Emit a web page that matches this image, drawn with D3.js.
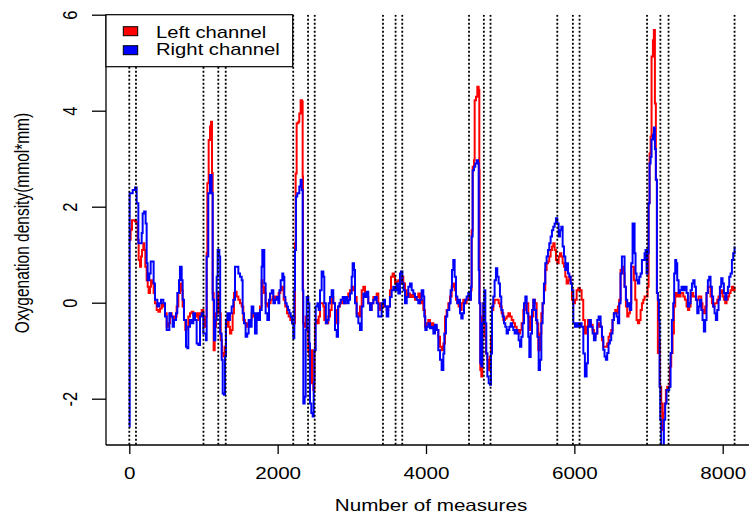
<!DOCTYPE html>
<html><head><meta charset="utf-8">
<script src="https://cdn.jsdelivr.net/npm/d3@7"></script>
<style>
html,body{margin:0;padding:0;background:#fff;}
svg{display:block;font-family:"Liberation Sans",Arial,sans-serif;}
</style></head>
<body>
<svg id="chart" width="749" height="517"></svg>
<script>
const xTicks = [0, 2000, 4000, 6000, 8000];
const yTicks = [-2, 0, 2, 4, 6];
const seriesNames = ["Left channel", "Right channel"];
const seriesColors = ["#ff0000", "#0000ff"];
const xTitle = "Number of measures";
const yTitle = "Oxygenation density(mmol*mm)";
const markers = [0, 90, 1000, 1200, 1300, 2210, 2410, 2500, 3420, 3590, 3680, 4580, 4780, 4870, 5770, 5980, 6070, 6980, 7160, 7270, 8160];

const leftChannel = [[0,1.31],[18,1.52],[36,1.72],[77,1.69],[99,1.65],[113,1.31],[126,0.89],[144,0.75],[158,0.96],[171,1.10],[189,1.24],[203,1.10],[216,0.75],[234,0.47],[248,0.33],[261,0.20],[279,0.33],[292,0.47],[310,0.40],[328,0.20],[346,-0.01],[369,-0.15],[391,-0.19],[414,-0.12],[436,-0.01],[459,-0.08],[481,-0.22],[504,-0.50],[526,-0.43],[549,-0.22],[571,-0.29],[593,-0.36],[616,-0.29],[638,-0.08],[661,0.20],[683,0.40],[706,0.26],[719,-0.08],[737,-0.36],[755,-0.57],[773,-0.50],[796,-0.29],[818,-0.22],[841,-0.19],[863,-0.26],[886,-0.29],[908,-0.22],[931,-0.36],[953,-0.22],[976,-0.15],[998,-0.29],[1016,-0.50],[1034,-0.29],[1043,1.03],[1052,2.49],[1070,3.39],[1088,3.67],[1101,3.77],[1115,2.70],[1124,0.20],[1137,-0.99],[1151,-0.50],[1169,-0.22],[1187,0.13],[1200,0.20],[1214,-0.22],[1232,-0.78],[1249,-1.05],[1267,-1.12],[1285,-0.92],[1303,-0.50],[1321,-0.36],[1339,-0.50],[1357,-0.64],[1375,-0.57],[1393,-0.22],[1411,0.20],[1429,0.23],[1447,0.13],[1470,0.06],[1492,-0.01],[1515,-0.08],[1537,-0.36],[1559,-0.43],[1582,-0.50],[1604,-0.43],[1627,-0.36],[1649,-0.22],[1672,-0.29],[1694,-0.36],[1717,-0.29],[1739,-0.22],[1762,-0.08],[1784,0.47],[1798,0.33],[1816,0.20],[1838,-0.01],[1861,-0.08],[1883,-0.01],[1905,0.06],[1932,0.13],[1959,0.06],[1986,0.13],[2013,0.20],[2036,0.26],[2058,0.33],[2081,0.06],[2103,-0.08],[2126,-0.22],[2148,-0.29],[2171,-0.36],[2193,-0.43],[2211,-0.43],[2234,1.24],[2243,2.69],[2256,3.74],[2279,3.77],[2292,3.94],[2310,4.22],[2328,4.19],[2337,2.63],[2342,-0.43],[2360,-0.50],[2378,-0.29],[2391,-0.57],[2414,-0.99],[2427,-1.13],[2445,-0.99],[2463,-1.68],[2481,-1.82],[2495,-0.99],[2504,-0.43],[2522,-0.36],[2535,-0.43],[2553,-0.29],[2571,-0.01],[2593,-0.01],[2616,-0.08],[2629,-0.36],[2650,-0.43],[2683,-0.29],[2706,-0.15],[2728,0.12],[2750,-0.01],[2773,-0.15],[2796,-0.43],[2818,-0.08],[2840,-0.01],[2863,0.06],[2890,-0.01],[2912,0.06],[2930,0.12],[2952,0.19],[2975,0.26],[2998,0.33],[3020,0.26],[3043,0.12],[3065,-0.22],[3088,-0.29],[3110,-0.08],[3133,0.26],[3155,0.33],[3178,0.19],[3200,0.12],[3222,-0.01],[3245,-0.15],[3267,-0.01],[3290,0.12],[3312,0.12],[3335,0.19],[3357,-0.01],[3380,-0.15],[3402,-0.08],[3425,-0.01],[3447,-0.08],[3470,-0.15],[3492,-0.08],[3514,0.26],[3528,0.54],[3550,0.61],[3568,0.54],[3582,0.40],[3604,0.44],[3627,0.47],[3649,0.40],[3672,0.54],[3694,0.40],[3717,0.26],[3740,0.12],[3762,0.19],[3784,0.12],[3807,0.16],[3829,0.12],[3851,0.06],[3874,0.12],[3896,0.19],[3919,-0.01],[3941,0.06],[3964,-0.15],[3986,-0.50],[4009,-0.43],[4031,-0.36],[4054,-0.50],[4076,-0.43],[4099,-0.53],[4121,-0.50],[4144,-0.57],[4166,-0.71],[4189,-0.92],[4211,-0.99],[4234,-0.85],[4256,-0.29],[4278,-0.15],[4301,-0.01],[4323,0.13],[4346,0.33],[4368,0.40],[4386,0.26],[4404,0.06],[4422,-0.01],[4440,-0.08],[4458,-0.15],[4481,-0.01],[4503,0.06],[4526,-0.01],[4548,0.06],[4570,0.13],[4593,0.06],[4606,0.26],[4615,1.51],[4629,2.83],[4647,2.97],[4656,4.22],[4674,4.29],[4692,4.50],[4710,4.43],[4719,2.76],[4723,-0.01],[4732,-1.40],[4746,-1.54],[4759,-0.29],[4773,-0.01],[4791,-0.71],[4809,-1.06],[4827,-1.19],[4845,-1.40],[4863,-1.13],[4876,-0.71],[4890,-0.15],[4907,-0.01],[4925,0.06],[4961,0.06],[4979,-0.01],[4997,-0.08],[5020,-0.22],[5042,-0.36],[5065,-0.33],[5087,-0.29],[5110,-0.22],[5132,-0.29],[5155,-0.36],[5177,-0.43],[5200,-0.50],[5222,-0.57],[5244,-0.64],[5267,-0.57],[5289,-0.43],[5312,-0.15],[5334,-0.01],[5357,-0.01],[5379,-0.29],[5402,-0.57],[5424,-0.29],[5447,0.06],[5469,-0.01],[5492,-0.43],[5514,-0.99],[5537,-0.64],[5555,-0.22],[5572,-0.01],[5590,0.26],[5608,0.68],[5626,0.82],[5644,0.86],[5662,0.96],[5680,1.10],[5698,1.17],[5716,1.24],[5734,1.10],[5752,0.89],[5770,0.82],[5788,0.96],[5806,1.03],[5824,0.96],[5842,0.82],[5860,0.75],[5878,0.54],[5896,0.40],[5914,0.47],[5932,0.54],[5950,0.40],[5968,0.06],[5986,-0.01],[6008,0.06],[6031,0.26],[6053,0.30],[6076,0.26],[6098,0.06],[6120,-0.36],[6142,-0.64],[6165,-0.50],[6183,-0.36],[6201,-0.43],[6223,-0.46],[6246,-0.57],[6264,-0.71],[6286,-0.64],[6309,-0.50],[6327,-0.43],[6354,-0.50],[6372,-0.78],[6390,-0.92],[6425,-0.92],[6443,-0.85],[6461,-0.71],[6479,-0.64],[6497,-0.57],[6515,-0.36],[6533,-0.22],[6551,-0.15],[6569,-0.22],[6587,-0.08],[6605,0.06],[6623,0.68],[6641,0.75],[6659,0.61],[6677,0.33],[6695,-0.08],[6713,-0.29],[6731,-0.22],[6749,-0.01],[6767,0.75],[6785,0.75],[6803,0.47],[6821,0.06],[6839,-0.36],[6857,-0.43],[6875,-0.36],[6893,-0.15],[6911,-0.01],[6929,0.06],[6947,0.13],[6974,0.13],[6987,0.33],[7001,2.07],[7014,3.11],[7028,3.46],[7041,5.13],[7059,5.47],[7072,5.68],[7086,4.15],[7099,2.56],[7113,0.20],[7126,-1.05],[7140,-0.78],[7153,-1.75],[7171,-2.10],[7185,-2.65],[7198,-2.30],[7216,-2.10],[7234,-1.82],[7252,-1.75],[7270,-1.75],[7288,-1.33],[7306,-1.05],[7324,-0.64],[7342,-0.08],[7360,0.20],[7378,0.13],[7396,0.20],[7414,0.13],[7432,0.20],[7450,0.20],[7468,0.13],[7490,0.06],[7513,-0.08],[7531,-0.15],[7549,-0.08],[7567,0.13],[7585,0.20],[7603,0.13],[7621,0.13],[7639,0.06],[7657,0.06],[7675,0.13],[7693,0.13],[7711,-0.01],[7728,-0.15],[7746,-0.22],[7764,-0.08],[7782,0.20],[7800,0.33],[7818,0.33],[7836,0.13],[7854,-0.01],[7872,-0.08],[7890,-0.01],[7908,-0.01],[7926,0.06],[7944,0.13],[7962,0.20],[7980,0.26],[7998,0.13],[8016,0.06],[8034,-0.01],[8052,0.06],[8070,0.13],[8088,0.20],[8106,0.26],[8124,0.33],[8142,0.26],[8160,0.33]];

const rightChannel = [[0,-2.58],[5,2.28],[46,2.35],[77,2.40],[99,2.07],[122,1.24],[167,1.45],[180,1.86],[200,1.90],[220,1.65],[234,0.82],[247,0.47],[270,0.61],[288,0.86],[315,0.86],[328,0.40],[346,0.06],[378,-0.08],[405,-0.01],[427,0.06],[459,-0.01],[481,-0.29],[504,-0.57],[526,-0.57],[540,-0.22],[562,-0.29],[584,-0.50],[602,-0.36],[630,-0.22],[647,0.20],[670,0.47],[683,0.75],[706,0.47],[719,0.06],[737,-0.36],[764,-0.92],[782,-0.95],[796,-0.50],[818,-0.36],[841,-0.43],[863,-0.22],[886,-0.36],[908,-0.85],[931,-0.88],[953,-0.29],[976,-0.22],[998,-0.64],[1034,-0.78],[1043,0.96],[1065,2.28],[1088,2.66],[1110,2.28],[1124,0.06],[1142,-0.78],[1160,-0.36],[1178,0.54],[1191,1.10],[1214,0.96],[1225,-0.64],[1245,-1.19],[1259,-1.89],[1276,-1.92],[1290,-1.12],[1303,-0.36],[1321,-0.22],[1339,-0.36],[1357,-0.22],[1380,-0.08],[1402,0.06],[1425,0.75],[1447,0.75],[1470,0.61],[1492,0.54],[1515,0.47],[1528,-0.22],[1546,-0.43],[1568,-0.71],[1590,-0.64],[1609,-0.36],[1627,-0.50],[1649,-0.08],[1672,-0.22],[1694,-0.64],[1717,-0.22],[1739,-0.36],[1762,-0.15],[1784,0.75],[1793,1.10],[1816,1.10],[1820,0.40],[1838,-0.22],[1861,-0.36],[1883,0.06],[1897,0.19],[1920,0.26],[1942,-0.01],[1964,0.06],[1987,0.12],[2009,-0.01],[2023,0.26],[2041,0.47],[2063,0.61],[2076,0.54],[2090,0.12],[2104,-0.01],[2122,-0.08],[2140,-0.15],[2158,-0.22],[2176,-0.29],[2194,-0.43],[2212,-0.74],[2225,0.26],[2234,1.10],[2247,2.21],[2265,2.28],[2292,2.42],[2310,2.56],[2324,2.35],[2337,0.26],[2346,-2.10],[2364,-1.96],[2378,-0.57],[2391,0.12],[2414,-0.01],[2427,-0.85],[2436,-2.10],[2454,-2.30],[2472,-2.37],[2486,-1.68],[2495,-0.99],[2513,-0.08],[2535,-0.01],[2553,-0.15],[2571,0.26],[2593,0.65],[2616,0.54],[2629,-0.01],[2650,-0.43],[2670,-0.36],[2688,-0.01],[2706,0.12],[2728,0.26],[2750,-0.01],[2773,-0.57],[2796,-0.71],[2814,-0.08],[2832,-0.01],[2850,0.06],[2877,0.12],[2895,-0.01],[2912,0.12],[2940,-0.01],[2957,0.06],[2975,0.19],[2998,0.54],[3011,0.82],[3029,0.68],[3043,-0.01],[3065,-0.29],[3088,-0.43],[3110,-0.57],[3133,-0.08],[3155,0.19],[3178,0.12],[3200,0.23],[3222,-0.01],[3245,-0.15],[3267,-0.01],[3290,0.06],[3312,0.12],[3335,-0.01],[3357,-0.29],[3380,-0.29],[3402,-0.01],[3425,0.06],[3447,-0.08],[3470,-0.29],[3492,-0.08],[3514,0.12],[3537,0.26],[3559,0.33],[3582,0.26],[3604,0.40],[3627,0.19],[3649,0.61],[3663,0.65],[3681,0.40],[3699,0.26],[3717,-0.01],[3740,0.12],[3762,0.33],[3784,0.40],[3807,0.26],[3829,0.19],[3851,0.12],[3874,0.06],[3896,-0.01],[3919,0.06],[3941,0.26],[3964,0.13],[3977,-0.29],[3991,-0.57],[4009,-0.50],[4031,-0.43],[4054,-0.53],[4076,-0.50],[4099,-0.64],[4121,-0.46],[4144,-0.57],[4166,-0.99],[4189,-1.19],[4211,-1.40],[4234,-1.06],[4247,-0.64],[4269,-0.29],[4287,-0.15],[4314,-0.01],[4332,0.26],[4350,0.68],[4368,0.89],[4386,0.54],[4404,0.13],[4422,-0.01],[4440,0.06],[4458,-0.22],[4476,-0.33],[4494,-0.22],[4512,-0.01],[4530,0.06],[4548,0.13],[4570,0.20],[4593,0.06],[4606,0.33],[4615,1.38],[4629,2.76],[4647,2.83],[4665,2.90],[4683,2.97],[4701,2.90],[4710,0.68],[4719,-0.01],[4732,-1.26],[4746,-1.33],[4759,-0.43],[4773,-0.01],[4786,0.26],[4800,-0.43],[4813,-1.06],[4827,-1.54],[4845,-1.68],[4863,-1.71],[4876,-1.06],[4890,-0.08],[4907,0.13],[4925,0.47],[4943,0.72],[4961,0.54],[4979,0.40],[4997,0.13],[5015,-0.15],[5033,-0.29],[5051,-0.43],[5069,-0.50],[5087,-0.64],[5105,-0.57],[5123,-0.50],[5141,-0.43],[5159,-0.50],[5177,-0.57],[5195,-0.64],[5213,-0.57],[5231,-0.64],[5249,-0.78],[5267,-0.92],[5285,-0.71],[5303,-0.43],[5321,-0.01],[5339,0.13],[5357,-0.22],[5379,-0.71],[5393,-1.13],[5411,-0.64],[5429,-0.15],[5447,0.06],[5465,-0.15],[5483,-0.36],[5501,-0.71],[5519,-1.40],[5537,-1.19],[5555,-0.43],[5572,-0.01],[5590,0.40],[5608,0.82],[5626,0.96],[5644,1.10],[5662,1.24],[5680,1.38],[5698,1.51],[5716,1.58],[5734,1.65],[5752,1.76],[5770,1.65],[5788,1.38],[5806,1.51],[5824,1.58],[5842,1.17],[5860,0.96],[5878,0.68],[5896,0.82],[5914,0.61],[5932,0.54],[5950,0.40],[5968,0.26],[5986,-0.43],[6008,-0.50],[6031,-0.43],[6053,-0.50],[6076,-0.43],[6098,-0.50],[6121,-1.06],[6142,-1.54],[6165,-1.26],[6183,-0.50],[6201,-0.36],[6223,-0.50],[6246,-0.64],[6264,-0.78],[6286,-0.64],[6309,-0.36],[6327,-0.29],[6354,-0.50],[6372,-0.71],[6390,-0.98],[6407,-1.12],[6425,-1.19],[6443,-1.05],[6461,-0.85],[6479,-0.78],[6497,-0.64],[6515,-0.36],[6533,-0.22],[6551,-0.22],[6569,-0.29],[6587,-0.43],[6605,-0.01],[6623,0.61],[6641,0.96],[6659,0.96],[6677,0.33],[6695,0.06],[6713,-0.08],[6731,-0.01],[6749,-0.15],[6767,0.82],[6785,1.65],[6803,1.65],[6812,1.03],[6825,0.61],[6839,0.47],[6857,0.40],[6875,0.54],[6893,0.61],[6911,0.89],[6929,0.89],[6947,1.03],[6960,1.10],[6974,0.61],[6987,1.03],[7001,2.07],[7014,2.90],[7028,3.04],[7041,3.40],[7059,3.50],[7072,3.65],[7086,3.20],[7099,2.56],[7113,0.20],[7126,0.06],[7140,-0.36],[7149,-1.75],[7158,-2.44],[7171,-3.20],[7189,-3.20],[7207,-2.44],[7225,-2.10],[7243,-1.82],[7261,-1.82],[7279,-1.75],[7297,-1.05],[7315,-0.36],[7333,-0.01],[7346,0.61],[7360,0.89],[7373,0.82],[7387,0.47],[7405,0.20],[7423,0.26],[7445,0.33],[7468,0.26],[7490,0.33],[7513,0.20],[7531,-0.08],[7549,-0.01],[7567,0.26],[7585,0.40],[7603,0.47],[7621,0.33],[7639,0.06],[7657,-0.22],[7675,-0.08],[7693,0.06],[7711,-0.15],[7728,-0.36],[7746,-0.60],[7764,-0.36],[7782,0.20],[7800,0.47],[7818,0.54],[7836,0.33],[7854,0.13],[7872,-0.08],[7890,-0.22],[7908,-0.36],[7926,-0.15],[7944,0.06],[7962,0.33],[7980,0.51],[7998,0.40],[8016,0.20],[8034,0.06],[8052,0.20],[8070,0.33],[8088,0.54],[8106,0.61],[8124,0.89],[8142,1.03],[8160,1.17]];

const svg = d3.select("#chart");
const plot = {left: 106, right: 749, top: 14.7, bottom: 445};
const x = d3.scaleLinear().domain([0, 8000]).range([129.3, 722.7]);
const y = d3.scaleLinear().domain([-2, 6]).range([398.7, 14.7]);
const SX = 1.25; // horizontal stretch of the reference raster
const FONT = "'Liberation Sans', Arial, sans-serif";

svg.append("defs").append("clipPath").attr("id", "clip")
  .append("rect").attr("x", plot.left).attr("y", plot.top)
  .attr("width", plot.right - plot.left).attr("height", plot.bottom - plot.top);

const lineGen = d3.line().x(d => x(d[0])).y(d => y(d[1])).curve(d3.curveStepAfter);
const gLines = svg.append("g").attr("clip-path", "url(#clip)");
[leftChannel, rightChannel].forEach((s, i) => {
  gLines.append("path").datum(s).attr("d", lineGen)
    .attr("fill", "none").attr("stroke", seriesColors[i])
    .attr("stroke-width", 2).attr("stroke-linejoin", "miter");
});

gLines.selectAll("line.marker").data(markers).join("line")
  .attr("class", "marker")
  .attr("x1", d => x(d)).attr("x2", d => x(d))
  .attr("y1", plot.top).attr("y2", plot.bottom)
  .attr("stroke", "#000").attr("stroke-width", 1.8)
  .attr("stroke-dasharray", "2,2");

// axes
const yAxis = d3.axisLeft(y).tickValues(yTicks).tickSize(14).tickFormat(d => String(d));
const gy = svg.append("g").attr("transform", `translate(${plot.left},0)`).call(yAxis);
gy.select(".domain").remove();
gy.selectAll(".tick line").attr("stroke", "#000").attr("stroke-width", 1.3);
gy.selectAll(".tick text")
  .attr("x", null).attr("dy", null)
  .attr("transform", `translate(-29,0) scale(${SX},1) rotate(-90)`)
  .attr("text-anchor", "middle").attr("fill", "#000")
  .style("font-size", "16.5px").style("font-family", FONT);

const xAxis = d3.axisBottom(x).tickValues(xTicks).tickSize(9).tickFormat(d => String(d));
const gx = svg.append("g").attr("transform", `translate(0,${plot.bottom})`).call(xAxis);
gx.select(".domain").remove();
gx.selectAll(".tick line").attr("stroke", "#000").attr("stroke-width", 1.3);
gx.selectAll(".tick text")
  .attr("y", null).attr("dy", null)
  .attr("transform", `translate(0,34) scale(${SX},1)`)
  .attr("text-anchor", "middle").attr("fill", "#000")
  .style("font-size", "16.5px").style("font-family", FONT);

// L-shaped frame
svg.append("line").attr("x1", plot.left).attr("x2", plot.left).attr("y1", plot.top).attr("y2", plot.bottom)
  .attr("stroke", "#000").attr("stroke-width", 1.3);
svg.append("line").attr("x1", plot.left).attr("x2", plot.right).attr("y1", plot.bottom).attr("y2", plot.bottom)
  .attr("stroke", "#000").attr("stroke-width", 1.3);

// titles
svg.append("text").attr("transform", `translate(431,511) scale(${SX},1)`)
  .attr("text-anchor", "middle").style("font-size", "16.5px").style("font-family", FONT)
  .attr("fill", "#000").text(xTitle);
svg.append("text").attr("transform", `translate(29,223) scale(${SX},1) rotate(-90)`)
  .attr("text-anchor", "middle").style("font-size", "15.5px").style("font-family", FONT)
  .attr("fill", "#000").text(yTitle);

// legend
const lg = svg.append("g");
lg.append("rect").attr("x", plot.left).attr("y", plot.top).attr("width", 186.7).attr("height", 52)
  .attr("fill", "#fff").attr("stroke", "#000").attr("stroke-width", 1.2);
seriesNames.forEach((name, i) => {
  lg.append("rect").attr("x", 123.3).attr("y", 26.7 + i * 19).attr("width", 14.4).attr("height", 9)
    .attr("fill", seriesColors[i]).attr("stroke", "#000").attr("stroke-width", 1);
  lg.append("text").attr("transform", `translate(156,${38.3 + i * 16.7}) scale(${SX},1)`)
    .style("font-size", "16.2px").style("font-family", FONT).attr("fill", "#000").text(name);
});
</script>
</body></html>
